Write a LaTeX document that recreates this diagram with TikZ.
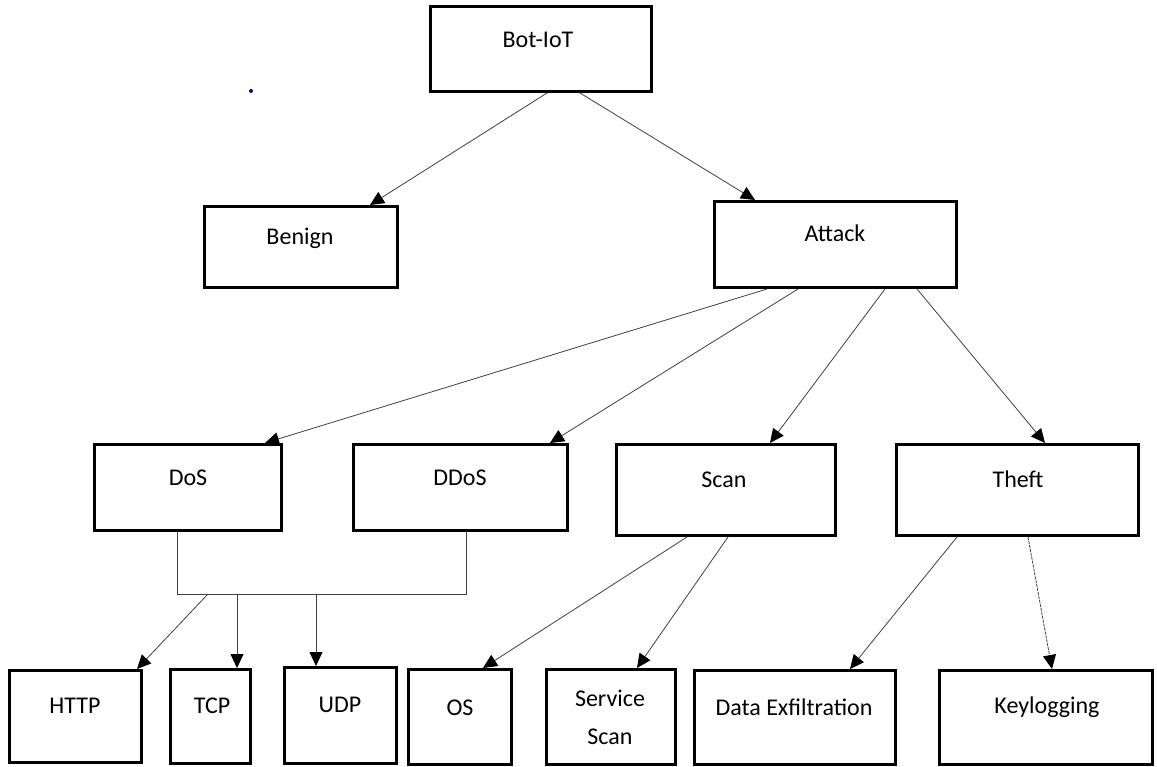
\documentclass[tikz,border=0pt]{standalone}
\usepackage{fontspec}
\setmainfont{Carlito}
\usetikzlibrary{arrows.meta}

\begin{document}
\begin{tikzpicture}[x=1pt,y=-1pt,
  box/.style={draw=black, line width=3pt, fill=white, inner sep=0pt},
  lbl/.style={anchor=base, inner sep=0pt, text=black,
    font=\fontsize{24}{28}\selectfont},
  link/.style={draw=black!75, line width=0.8pt},
  arr/.style={link, -{Triangle[length=14pt,width=13pt,black]}}]

\useasboundingbox (0,0) rectangle (1157,767);
\fill[white] (0,0) rectangle (1157,767);

% boxes
\node[box, minimum width=221, minimum height=85] (bot)   at (541,49)     {};
\node[box, minimum width=193, minimum height=81] (ben)   at (301,247)    {};
\node[box, minimum width=242, minimum height=86] (att)   at (835.5,244.5){};
\node[box, minimum width=187, minimum height=86] (dos)   at (188,487.5)  {};
\node[box, minimum width=214, minimum height=86] (ddos)  at (460.5,487.5){};
\node[box, minimum width=219, minimum height=91] (scan)  at (726,490)    {};
\node[box, minimum width=242, minimum height=91] (theft) at (1017.5,490) {};
\node[box, minimum width=132, minimum height=92] (http)  at (75.5,716.5) {};
\node[box, minimum width=80,  minimum height=94] (tcp)   at (210.5,716.5){};
\node[box, minimum width=112, minimum height=96] (udp)   at (340.5,715.5){};
\node[box, minimum width=103, minimum height=95] (os)    at (460,717)    {};
\node[box, minimum width=129, minimum height=95] (svc)   at (611,717)    {};
\node[box, minimum width=201, minimum height=94] (data)  at (795,717.5)  {};
\node[box, minimum width=213, minimum height=94] (key)   at (1046,717.5) {};

% labels
\node[lbl] (botT)   at (538,48)   {Bot-IoT};
\node[lbl] (benT)   at (300,245)  {Benign};
\node[lbl] (attT)   at (835,242)  {Attack};
\node[lbl] (dosT)   at (188,485)  {DoS};
\node[lbl] (ddosT)  at (460,485)  {DDoS};
\node[lbl] (scanT)  at (724,487)  {Scan};
\node[lbl] (theftT) at (1018,487) {Theft};
\node[lbl] (httpT)  at (75,713)   {HTTP};
\node[lbl] (tcpT)   at (212,713)  {TCP};
\node[lbl] (udpT)   at (340,712)  {UDP};
\node[lbl] (osT)    at (460,715)  {OS};
\node[lbl] (svcT1)  at (610,706)  {Service};
\node[lbl] (svcT2)  at (610,744)  {Scan};
\node[lbl] (dataT)  at (794,715)  {Data Exfiltration};
\node[lbl] (keyT)   at (1047,713) {Keylogging};

% top level
\draw[arr] ([xshift=6]bot.south)  -- ([xshift=69]ben.north);
\draw[arr] ([xshift=39]bot.south) -- ([xshift=-80.5]att.north);

% attack categories
\draw[arr] ([xshift=-68.5]att.south) -- ([xshift=77]dos.north);
\draw[arr] ([xshift=-37.5]att.south) -- ([xshift=89.5]ddos.north);
\draw[arr] ([xshift=49.5]att.south)  -- ([xshift=44]scan.north);
\draw[arr] ([xshift=81.5]att.south)  -- ([xshift=27.5]theft.north);

% shared bus below DoS and DDoS
\coordinate (busL) at (177,594);
\coordinate (busR) at (466,594);
\coordinate (tapH) at (208,594);
\coordinate (tapT) at (237,594);
\coordinate (tapU) at (316,594);
\draw[link] ([xshift=-11]dos.south) -- (busL) -- (busR) -- ([xshift=5.5]ddos.south);
\draw[arr] (tapH) -- ([xshift=61.5]http.north);
\draw[arr] (tapT) -- ([xshift=26.5]tcp.north);
\draw[arr] (tapU) -- ([xshift=-24.5]udp.north);

% scan subtypes
\draw[arr] ([xshift=-39]scan.south) -- ([xshift=23]os.north);
\draw[arr] ([xshift=2]scan.south)   -- ([xshift=26]svc.north);

% theft subtypes
\draw[arr] ([xshift=-60.5]theft.south) -- ([xshift=55]data.north);
\draw[arr, dash pattern=on 3pt off 1pt] ([xshift=10.5]theft.south) -- ([xshift=6]key.north);

% small speck
\fill[blue!55!black] (251,91) circle (2);
\end{tikzpicture}
\end{document}
